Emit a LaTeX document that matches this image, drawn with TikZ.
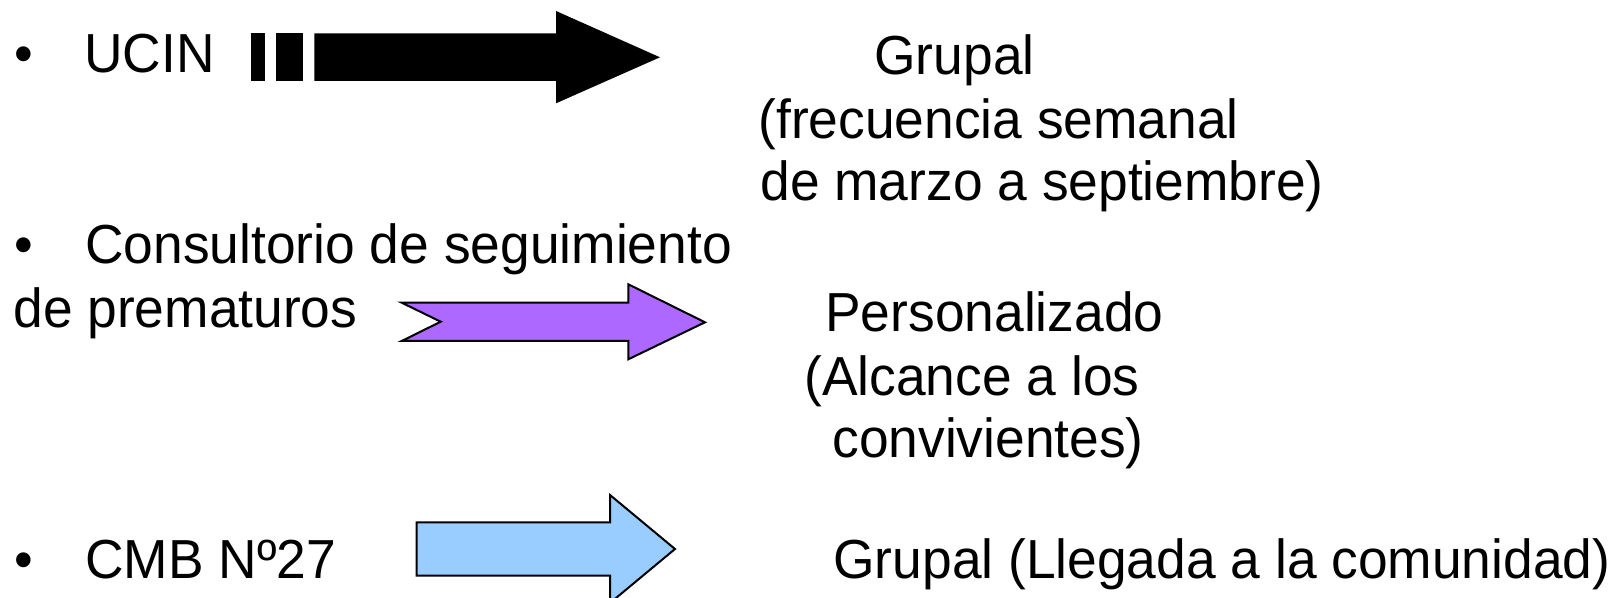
\documentclass[tikz,border=0pt]{standalone}
\usepackage{fontspec}
\setmainfont{Liberation Sans}[FakeStretch=0.97]
\usetikzlibrary{positioning,calc}

\definecolor{lila}{RGB}{173,104,255}
\definecolor{celeste}{RGB}{153,204,255}

\tikzset{
  txt/.style={inner sep=0pt, anchor=base west, font=\fontsize{27.5pt}{32pt}\selectfont},
  flecha/.style={draw=black, line width=1pt, line join=miter},
}

\begin{document}
\begin{tikzpicture}[x=0.5pt, y=-0.5pt]
    \useasboundingbox (0,0) rectangle (1615,598);

      \node[txt] (b1) at (14,73) {•};
      \node[txt] (ucin) at (84,73) {UCIN};

      \node[txt] (g1) at (874,75) {Grupal};
      \node[txt] (g2) at ($(g1.base west)+(-116,64)$) {(frecuencia semanal};
      \node[txt] (g3) at ($(g2.base west)+(2,62)$) {de marzo a septiembre)};

      \node[txt] (b2) at (14,264) {•};
      \node[txt] (cons) at (85,264) {Consultorio de seguimiento};
      \node[txt] (prem) at ($(cons.base west)+(-72,64)$) {de prematuros};

      \node[txt] (p1) at (825,332) {Personalizado};
      \node[txt] (p2) at ($(p1.base west)+(-21,63)$) {(Alcance a los};
      \node[txt] (p3) at ($(p2.base west)+(28,62)$) {convivientes)};

      \node[txt] (b3) at (14,578) {•};
      \node[txt] (cmb) at (85,578) {CMB Nº27};
      \node[txt] (g4) at (833,578) {Grupal (Llegada a la comunidad)};

      \fill (250.7,33.3) rectangle (265,81);
      \fill (275.7,33.3) rectangle (303.3,81);
      \fill (314.3,33.3) -- (556,33.3) -- (556,11) -- (660,57.3)
        -- (556,103.3) -- (556,81) -- (314.3,81) -- cycle;

      \filldraw[flecha, fill=lila] (401.7,302.7) -- (628.3,302.7) -- (628.3,284.3)
        -- (705,322.3) -- (628.3,359.3) -- (628.3,341) -- (401.7,341)
        -- (440.7,321.7) -- cycle;

      \filldraw[flecha, fill=celeste] (416.7,522.3) -- (610,522.3) -- (610,495)
        -- (675,549) -- (610,603) -- (610,575.7) -- (416.7,575.7) -- cycle;

\end{tikzpicture}
\end{document}
